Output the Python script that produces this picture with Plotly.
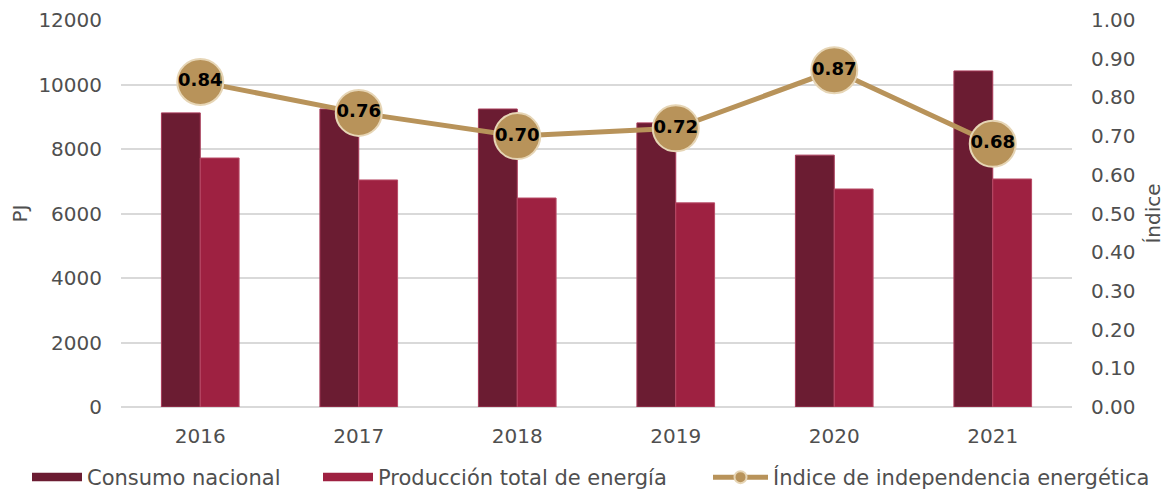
import plotly.graph_objects as go

years = ["2016", "2017", "2018", "2019", "2020", "2021"]
consumo = [9120, 9240, 9240, 8810, 7810, 10420]
produccion = [7720, 7040, 6480, 6330, 6760, 7070]
indice = [0.84, 0.76, 0.70, 0.72, 0.87, 0.68]
indice_labels = ["0.84", "0.76", "0.70", "0.72", "0.87", "0.68"]
left_ticks = [0, 2000, 4000, 6000, 8000, 10000, 12000]
right_ticks = [0.0, 0.1, 0.2, 0.3, 0.4, 0.5, 0.6, 0.7, 0.8, 0.9, 1.0]

FONT = "DejaVu Sans"
TICK_COLOR = "#4F4F4F"
TF = dict(family=FONT, size=20, color=TICK_COLOR)
LF = dict(family=FONT, size=21, color=TICK_COLOR)
C_CONS = "#6B1C32"
C_PROD = "#9E2141"
C_IND = "#B8935A"

fig = go.Figure()
fig.add_trace(go.Bar(
    x=years, y=consumo, name="Consumo nacional", showlegend=False,
    marker=dict(color=C_CONS, line=dict(color="#A83A58", width=1)),
))
fig.add_trace(go.Bar(
    x=years, y=produccion, name="Producción total de energía", showlegend=False,
    marker=dict(color=C_PROD, line=dict(color="#B84A66", width=1)),
))
# legend proxies (wide swatches)
fig.add_trace(go.Scatter(x=[None], y=[None], mode="lines", name="Consumo nacional",
                         fill="toself", fillcolor=C_CONS,
                         line=dict(color=C_CONS, width=12), legend="legend"))
fig.add_trace(go.Scatter(x=[None], y=[None], mode="lines", name="Producción total de energía",
                         fill="toself", fillcolor=C_PROD,
                         line=dict(color=C_PROD, width=12), legend="legend2"))
fig.add_trace(go.Scatter(
    x=years, y=indice, name="Índice de independencia energética",
    yaxis="y2", mode="lines+markers+text", legend="legend3",
    line=dict(color=C_IND, width=5),
    marker=dict(size=46, color=C_IND, line=dict(color="#E6D5B5", width=2)),
    text=indice_labels, textposition="middle center",
    textfont=dict(family=FONT, size=18, color="#000000", weight=700),
))

W, H = 1164, 482
LEG_Y = (H - 469.5) / H


def leg(x_px, iw):
    return dict(
        orientation="h", x=x_px / W, xanchor="left", xref="container",
        y=LEG_Y, yanchor="middle", yref="container",
        font=LF, itemsizing="constant", itemwidth=iw,
        bgcolor="rgba(0,0,0,0)",
    )


fig.update_layout(
    width=W, height=H,
    margin=dict(l=113, r=100, t=12, b=83),
    paper_bgcolor="white", plot_bgcolor="white",
    barmode="group", bargap=0.51, bargroupgap=0,
    font=dict(family=FONT, color=TICK_COLOR),
    xaxis=dict(
        type="category", showgrid=False, showline=False, ticks="",
        tickfont=TF, automargin=False, ticklabelstandoff=15,
    ),
    yaxis=dict(
        range=[0, 12000], tickvals=left_ticks, ticktext=[str(v) for v in left_ticks],
        showgrid=True, gridcolor="#D9D9D9", gridwidth=1.5,
        zeroline=True, zerolinecolor="#D9D9D9", zerolinewidth=1.5,
        tickfont=TF, automargin=False,
        title=dict(text="PJ", font=TF, standoff=30),
        ticklabelstandoff=18,
    ),
    yaxis2=dict(
        range=[0, 1.0], overlaying="y", side="right",
        tickvals=right_ticks, ticktext=[f"{v:.2f}" for v in right_ticks],
        showgrid=False, zeroline=False,
        tickfont=TF, automargin=False,
        title=dict(text="Índice", font=TF, standoff=11),
        ticklabelstandoff=18,
    ),
    legend=leg(19, 50),
    legend2=leg(310, 50),
    legend3=leg(700, 55),
    showlegend=True,
)

fig.write_html("out.html")
